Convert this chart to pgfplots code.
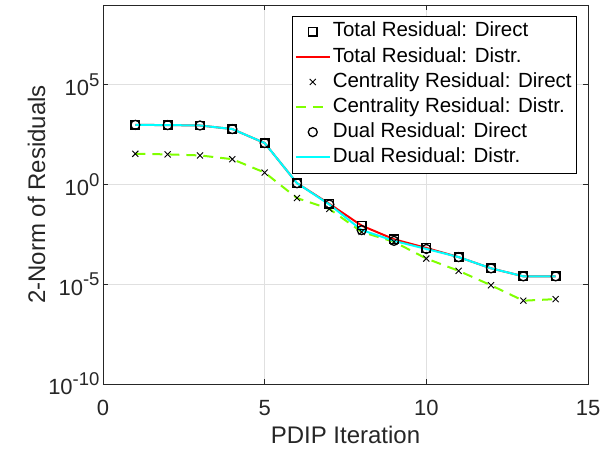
\documentclass[border=0pt]{standalone}
\usepackage{fontspec}
\setmainfont{Liberation Sans}
\usepackage{pgfplots}
\pgfplotsset{compat=1.18}

\definecolor{mlgreen}{rgb}{0.5,1,0}
\definecolor{mlcyan}{rgb}{0,1,1}
\definecolor{mlred}{rgb}{1,0,0}
\definecolor{mlaxis}{rgb}{0.15,0.15,0.15}
\newcommand{\pw}[1]{10\raisebox{0.42em}{\fontsize{18.5}{18}\selectfont #1}}

\begin{document}
\begin{tikzpicture}
\useasboundingbox (-103pt,-70pt) rectangle (507pt,384pt);
\begin{axis}[
    scale only axis,
    width=485pt, height=379pt,
    xmin=0, xmax=15,
    ymode=log, ymin=1e-10, ymax=1e9,
    xtick={0,5,10,15},
    ytick={1e-10,1e-5,1,1e5},
    yticklabels={\pw{-10},\pw{-5},\pw{0},\pw{5}},
    minor ytick={}, minor xtick={},
    /pgf/number format/assume math mode=true,
    tick label style={font=\fontsize{22}{26}\selectfont, text=mlaxis},
    x tick label style={yshift=-13pt},
    xlabel={PDIP Iteration},
    ylabel={2-Norm of Residuals},
    label style={font=\fontsize{24}{28}\selectfont, text=mlaxis},
    xlabel style={yshift=-3pt},
    ylabel style={yshift=-4pt},
    axis line style={mlaxis, line width=0.8pt},
    tick style={mlaxis, line width=0.8pt},
    major tick length=5pt,
    tick align=inside,
    xmajorgrids, ymajorgrids,
    grid style={black!12, line width=0.8pt},
    legend cell align=left,
    legend image code/.code={\draw[mark repeat=2,mark phase=2,#1] plot coordinates {(0pt,0pt) (17pt,0pt) (34pt,0pt)};},
    legend style={at={(rel axis cs:0.977,0.971)}, anchor=north east,
        font=\fontsize{20.5}{25}\selectfont,
        fill=white, inner xsep=3pt, inner ysep=3pt, row sep=0pt,
        nodes={text height=15pt, text depth=4.5pt, inner ysep=2.8pt, inner xsep=2pt}},
]
% Total residual, direct
\addplot[only marks, mark=square, mark size=4.2pt, draw=black, line width=1.3pt] coordinates {
    (1,977) (2,955) (3,912) (4,603) (5,120) (6,1.17) (7,0.107)
    (8,8.7e-3) (9,1.8e-3) (10,6.6e-4) (11,2.3e-4) (12,6.3e-5) (13,2.5e-5) (14,2.5e-5)
};
\addlegendentry{Total Residual: Direct}
% Total residual, distributed
\addplot[draw=mlred, line width=2pt, no marks] coordinates {
    (1,977) (2,955) (3,912) (4,603) (5,120) (6,1.17) (7,0.107)
    (8,8.7e-3) (9,1.8e-3) (10,6.6e-4) (11,2.3e-4) (12,6.3e-5) (13,2.5e-5) (14,2.5e-5)
};
\addlegendentry{Total Residual: Distr.}
% Centrality residual, direct
\addplot[only marks, mark=x, mark size=4.3pt, draw=black, line width=0.9pt] coordinates {
    (1,34.7) (2,32.4) (3,28.8) (4,18.6) (5,3.98) (6,0.209) (7,0.060)
    (8,4.2e-3) (9,1.35e-3) (10,1.95e-4) (11,4.7e-5) (12,8.9e-6) (13,1.5e-6) (14,1.8e-6)
};
\addlegendentry{Centrality Residual: Direct}
% Centrality residual, distributed
\addplot[draw=mlgreen, line width=2pt, no marks, dash pattern=on 10pt off 7pt] coordinates {
    (1,34.7) (2,32.4) (3,28.8) (4,18.6) (5,3.98) (6,0.209) (7,0.060)
    (8,4.2e-3) (9,1.35e-3) (10,1.95e-4) (11,4.7e-5) (12,8.9e-6) (13,1.5e-6) (14,1.8e-6)
};
\addlegendentry{Centrality Residual: Distr.}
% Dual residual, direct
\addplot[only marks, mark=o, mark size=4.5pt, draw=black, line width=1.3pt] coordinates {
    (1,977) (2,955) (3,912) (4,603) (5,120) (6,1.17) (7,0.100)
    (8,5.2e-3) (9,1.5e-3) (10,5.9e-4) (11,2.3e-4) (12,6.3e-5) (13,2.5e-5) (14,2.5e-5)
};
\addlegendentry{Dual Residual: Direct}
% Dual residual, distributed
\addplot[draw=mlcyan, line width=2pt, no marks] coordinates {
    (1,977) (2,955) (3,912) (4,603) (5,120) (6,1.17) (7,0.100)
    (8,5.2e-3) (9,1.5e-3) (10,5.9e-4) (11,2.3e-4) (12,6.3e-5) (13,2.5e-5) (14,2.5e-5)
};
\addlegendentry{Dual Residual: Distr.}
\end{axis}
\end{tikzpicture}
\end{document}
